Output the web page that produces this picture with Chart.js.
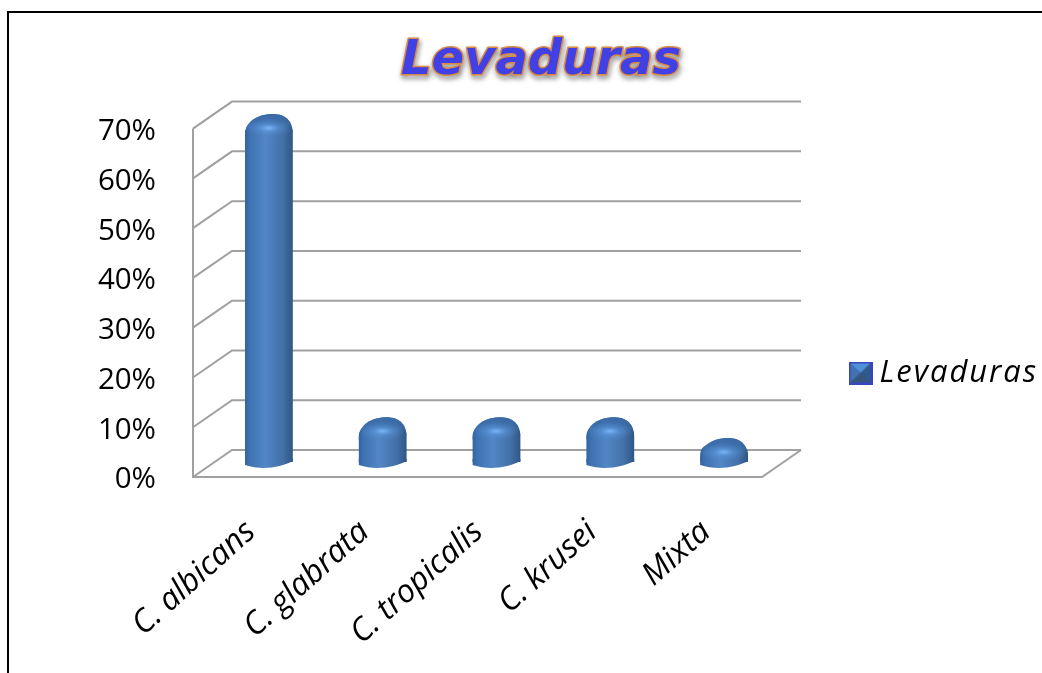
<!DOCTYPE html>
<html><head><meta charset="utf-8">
<style>html,body{margin:0;padding:0;background:#fff;overflow:hidden}canvas{display:block}</style>
<script src="https://cdn.jsdelivr.net/npm/chart.js@4"></script>
</head><body><canvas id="c" width="1042" height="673"></canvas>
<script>
const categories = ['C. albicans','C. glabrata','C. tropicalis','C. krusei','Mixta'];
const values = [68.5, 7.6, 7.6, 7.6, 3.4];
const seriesName = 'Levaduras';
const titleText = 'Levaduras';
const FONT = '"Open Sans"';
const TITLE_FONT = '"DejaVu Sans"';
const DX = 19, DY = -15, WX = 39, WY = -27;

function icon(){
  const c=document.createElement('canvas');c.width=24;c.height=23;const g=c.getContext('2d');
  g.fillStyle='#3a45c0';g.fillRect(0,0,24,23);
  const tri=(col,a,b)=>{g.fillStyle=col;g.beginPath();g.moveTo(a[0],a[1]);g.lineTo(b[0],b[1]);g.lineTo(12,11.5);g.closePath();g.fill();};
  tri('#4f8fd8',[2,2],[22,2]);
  tri('#4272b0',[2,2],[2,21]);
  tri('#2f5a8a',[22,2],[22,21]);
  tri('#35577c',[2,21],[22,21]);
  return c;
}
function barGrad(ctx,x,w){
  const g=ctx.createLinearGradient(x-w/2,0,x+w/2,0);
  g.addColorStop(0,'#3564a0');g.addColorStop(.1,'#3e72b0');g.addColorStop(.42,'#5187c6');
  g.addColorStop(.8,'#426fa6');g.addColorStop(1,'#2f5684');
  return g;
}
const scene = {
  id:'scene',
  beforeLayout(chart){
    const l=chart.legend;
    if(l&&!l._wrapped){
      const f=l.fit.bind(l);l.fit=function(){f();this.width=280;};
      const d=l.draw.bind(l);
      l.draw=function(){const c=chart.ctx;c.save();c.letterSpacing='1.95px';c.clip=function(){};d();delete c.clip;c.restore();};
      l._wrapped=true;
    }
  },
  afterLayout(chart){
    const l=chart.legend;
    l.left=857;l.right=1042;l.top=341;l.bottom=405;l.adjustHitBoxes();
    const t=chart.titleBlock;t.left=40;t.right=1042;
  },
  beforeDraw(chart){
    const c=chart.ctx;
    c.save();
    c.fillStyle='#fff';c.fillRect(0,0,1042,673);
    c.strokeStyle='#000';c.lineWidth=2;
    c.beginPath();c.moveTo(8,673);c.lineTo(8,12);c.lineTo(1042,12);c.stroke();
    const t=chart.titleBlock,o=t.options;
    c.font=`italic bold ${o.font.size}px ${TITLE_FONT}`;c.textAlign='center';c.textBaseline='middle';
    const x=(t.left+t.right)/2,y=t.top+o.padding.top+o.font.size*1.2/2;
    c.shadowColor='rgba(0,0,0,.55)';c.shadowBlur=5;c.shadowOffsetY=3;c.shadowOffsetX=1;
    c.lineWidth=3;c.strokeStyle='#d98a45';c.lineJoin='round';c.strokeText(titleText,x,y);
    c.restore();
  },
  beforeDatasetsDraw(chart){
    const c=chart.ctx,a=chart.chartArea,y=chart.scales.y;
    c.save();c.strokeStyle='#a0a0a0';c.lineWidth=2;
    y.ticks.forEach(t=>{
      const p=y.getPixelForValue(t.value);
      c.beginPath();c.moveTo(a.left,p);c.lineTo(a.left+WX,p+WY);c.lineTo(a.right+WX,p+WY);c.stroke();
    });
    c.beginPath();c.moveTo(a.left,a.top);c.lineTo(a.left,a.bottom);c.lineTo(a.right,a.bottom);c.lineTo(a.right+WX,a.bottom+WY);c.stroke();
    c.restore();
    c.save();c.translate(DX,DY);
  },
  afterDatasetsDraw(chart){
    const c=chart.ctx;
    chart.getDatasetMeta(0).data.forEach(b=>{
      const w=b.width,r=w/2,x=b.x,y=b.y,base=b.base,L=x-r,R=x+r;
      c.save();
      c.fillStyle=barGrad(c,x,w);
      c.beginPath();c.moveTo(L,base-3);c.lineTo(L,base+3);
      c.bezierCurveTo(x-6,base+9,x+12,base+5,R,base-1);c.lineTo(R,base-3);c.closePath();c.fill();
      c.beginPath();c.moveTo(L,y+15);
      c.bezierCurveTo(L,y+2,x-r*.6,y-6,x+2,y-7);
      c.bezierCurveTo(x+r*.5,y-7.5,R-1,y-4,R,y+11);
      c.quadraticCurveTo(x,y+22,L,y+15);c.closePath();
      c.fill();
      c.clip();
      const g2=c.createLinearGradient(0,y-8,0,y+7);
      g2.addColorStop(0,'#3a6aa6');g2.addColorStop(.6,'rgba(58,106,166,.7)');g2.addColorStop(1,'rgba(60,110,170,0)');
      c.fillStyle=g2;c.fillRect(L,y-8,w,16);
      const g=c.createRadialGradient(x,y+7,1,x,y+7,24);
      g.addColorStop(0,'rgba(120,180,245,.95)');g.addColorStop(.4,'rgba(90,150,220,.5)');g.addColorStop(1,'rgba(80,135,200,0)');
      c.fillStyle=g;c.save();c.translate(x,y+7);c.scale(1,.4);c.translate(-x,-(y+7));c.fillRect(L,y-50,w,120);c.restore();
      c.restore();
    });
    c.restore();
  }
};
new Chart(document.getElementById('c'),{
  type:'bar',
  data:{labels:categories,datasets:[{
    label:seriesName,data:values,clip:false,barPercentage:.42,categoryPercentage:1,
    backgroundColor:ctx=>{const a=ctx.chart.chartArea;if(!a)return '#4a7fbd';
      const w=48,x=ctx.chart.scales.x.getPixelForValue(ctx.dataIndex);return barGrad(ctx.chart.ctx,x,w);},
    borderRadius:{topLeft:12,topRight:12,bottomLeft:0,bottomRight:0},borderSkipped:false
  }]},
  options:{
    responsive:false,animation:false,
    layout:{padding:0},
    plugins:{
      title:{display:true,text:titleText,color:'#4040e4',font:{family:TITLE_FONT,size:48,weight:'bold',style:'italic'},padding:{top:33,bottom:38}},
      legend:{position:'right',labels:{usePointStyle:true,pointStyle:icon(),boxWidth:7,padding:0,color:'#000',font:{family:FONT,size:31,style:'italic'}}},
      tooltip:{enabled:false}
    },
    scales:{
      x:{grid:{display:false},border:{display:false},
        afterFit(s){s.height=196;},
        ticks:{minRotation:42,maxRotation:42,padding:28,labelOffset:1,color:'#000',font:{family:FONT,size:32,style:'italic'}}},
      y:{min:0,max:70,grid:{display:false},border:{display:false},
        afterFit(s){s.width=193;},
        ticks:{stepSize:10,padding:29,labelOffset:3,color:'#000',callback:v=>v+'%',font:{family:FONT,size:29.5}}}
    }
  },
  plugins:[scene]
});
</script></body></html>
